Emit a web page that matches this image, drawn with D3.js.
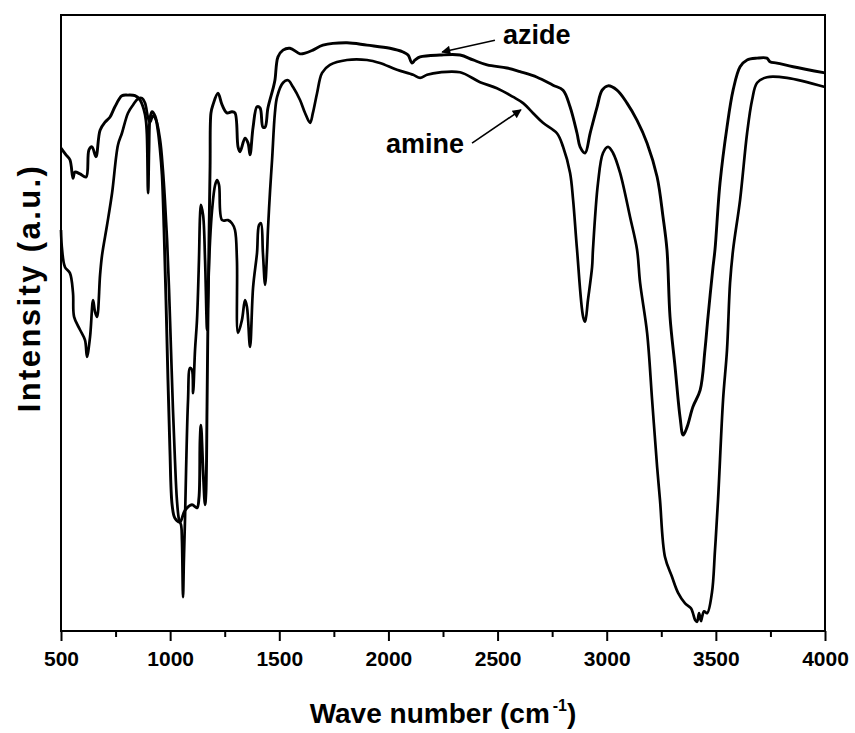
<!DOCTYPE html>
<html><head><meta charset="utf-8">
<script src="https://cdn.jsdelivr.net/npm/d3@7"></script>
<style>
html,body{margin:0;padding:0;background:#fff;}
text{font-family:"Liberation Sans",Arial,sans-serif;font-weight:bold;fill:#000;}
</style></head>
<body><svg id="c" width="855" height="733"></svg>
<script>
// ---- data ----
const xTicksMajor = [500,1000,1500,2000,2500,3000,3500,4000];
const xTicksMinor = [750,1250,1750,2250,2750,3250,3750];

const azideWavenumber = [500,523,541,555,564,587,615,628,642,660,679,702,724,747,779,807,839,862,880,889,894,899,903,908,917,931,944,954,963,972,981,990,999,1009,1022,1045,1068,1100,1123,1132,1137,1141,1151,1160,1164,1169,1173,1178,1183,1187,1196,1219,1238,1260,1283,1297,1311,1320,1343,1357,1366,1380,1398,1412,1425,1435,1448,1471,1480,1494,1517,1549,1595,1618,1654,1700,1810,1902,2007,2067,2090,2108,2122,2145,2236,2328,2388,2452,2543,2603,2681,2754,2800,2832,2864,2878,2901,2924,2956,2979,3006,3047,3093,3139,3185,3231,3258,3276,3290,3313,3336,3350,3368,3395,3428,3450,3464,3487,3496,3519,3551,3579,3611,3643,3689,3734,3748,3780,3854,4000];
const azideIntensity = [78.4,77.3,76.5,73.5,74.5,74.2,73.7,78.1,78.6,77.0,81.3,82.6,83.4,85.1,86.9,87.0,86.9,86.2,84.6,83.0,80.5,71.1,78.1,83.3,84.3,83.6,81.3,78.1,74.0,65.1,53.7,40.8,29.4,20.5,18.3,17.7,19.6,20.5,20.0,21.6,31.0,33.4,26.0,20.5,22.4,36.4,50.0,63.5,75.5,84.1,85.4,87.3,85.4,84.1,84.3,84.1,78.6,77.8,80.0,79.2,77.3,81.8,85.1,84.9,81.8,81.8,84.9,88.0,89.4,93.2,94.3,94.6,93.7,93.8,94.3,95.1,95.5,95.1,94.6,94.0,93.5,92.2,92.7,93.2,93.5,93.5,92.7,91.9,91.4,90.8,89.9,88.6,87.8,85.1,80.8,78.6,77.6,80.8,85.1,87.8,88.5,87.8,85.7,82.9,79.2,73.7,67.2,61.9,51.0,42.9,34.7,31.8,33.1,36.4,39.1,45.6,51.0,59.1,61.9,72.7,81.8,87.8,91.6,92.7,93.0,93.0,92.4,92.2,91.6,90.6];

const amineWavenumber = [500,505,518,541,555,560,587,610,619,633,647,656,665,679,688,711,734,761,779,807,830,853,871,885,899,908,921,935,954,967,976,986,995,1004,1013,1022,1031,1041,1050,1054,1059,1063,1068,1073,1082,1091,1100,1105,1114,1123,1132,1137,1141,1151,1160,1169,1173,1183,1192,1206,1215,1224,1238,1265,1283,1297,1306,1311,1329,1343,1352,1366,1380,1398,1407,1416,1425,1435,1444,1448,1458,1467,1480,1490,1517,1540,1563,1595,1618,1641,1654,1673,1696,1732,1810,1902,1961,2039,2113,2145,2177,2236,2328,2420,2497,2571,2617,2662,2708,2772,2800,2832,2846,2864,2892,2901,2914,2933,2937,2960,2983,3006,3029,3061,3107,3139,3153,3185,3208,3231,3244,3267,3299,3327,3359,3386,3395,3405,3414,3423,3432,3437,3446,3460,3482,3496,3510,3533,3551,3565,3579,3611,3643,3666,3689,3734,3826,4000];
const amineIntensity = [65.1,61.9,59.1,58.1,54.9,51.0,48.9,47.2,44.5,47.7,53.7,51.8,51.0,57.8,61.0,65.9,71.1,78.9,80.8,84.1,85.4,86.4,86.5,85.7,83.3,82.6,83.6,83.0,79.7,74.8,70.0,63.5,55.4,45.6,35.9,27.8,21.3,18.0,17.2,14.8,5.5,11.5,18.0,26.1,37.5,42.7,42.4,38.6,45.6,50.5,60.2,67.5,69.2,67.5,60.2,48.9,53.7,63.5,68.3,72.4,73.2,72.4,66.7,66.7,66.2,65.1,60.2,48.4,50.5,53.7,52.6,46.1,55.8,61.4,65.9,66.2,61.4,56.2,61.4,65.1,71.6,76.5,84.1,86.7,89.0,89.4,88.3,86.2,84.1,82.5,84.1,87.3,90.6,91.9,92.7,92.7,92.2,91.1,90.3,89.8,90.3,90.7,90.7,89.1,88.1,86.7,85.7,84.1,82.5,80.8,78.6,74.4,70.0,61.9,51.0,50.2,53.7,59.1,61.9,72.7,77.6,78.6,77.6,74.4,67.2,61.9,56.5,48.4,37.5,26.6,21.3,12.0,8.8,6.2,4.5,3.7,2.9,1.8,1.5,2.9,1.6,2.3,3.2,2.9,6.2,13.1,21.3,37.5,45.6,56.5,61.9,70.0,80.8,86.2,89.0,89.9,89.8,88.3];

const labels = ["azide","amine"];
const xTitle = "Wave number (cm";
const yTitle = "Intensity (a.u.)";

// ---- layout ----
const L = 61, R = 825, T = 15, B = 631;
const svg = d3.select("#c");
const x = d3.scaleLinear().domain([500,4000]).range([L,R]);
const y = d3.scaleLinear().domain([0,100]).range([B,T]);

// curves
const line = d3.line().x(d=>x(d[0])).y(d=>y(d[1])).curve(d3.curveCatmullRom.alpha(0.5));
const azide = d3.zip(azideWavenumber, azideIntensity);
const amine = d3.zip(amineWavenumber, amineIntensity);
const g = svg.append("g");
g.append("path").datum(amine).attr("d",line).attr("fill","none").attr("stroke","#000")
  .attr("stroke-width",2.7).attr("stroke-linejoin","round");
g.append("path").datum(azide).attr("d",line).attr("fill","none").attr("stroke","#000")
  .attr("stroke-width",2.9).attr("stroke-linejoin","round");

// frame
svg.append("rect").attr("x",L).attr("y",T).attr("width",R-L).attr("height",B-T)
  .attr("fill","none").attr("stroke","#000").attr("stroke-width",2);

// bottom axis
const ax = d3.axisBottom(x).tickValues(xTicksMajor).tickSize(10).tickPadding(10).tickFormat(d3.format("d"));
const axG = svg.append("g").attr("transform",`translate(0,${B})`).call(ax);
axG.select(".domain").remove();
axG.selectAll(".tick line").attr("stroke","#000").attr("stroke-width",2);
axG.selectAll(".tick text").attr("font-size",21).attr("font-family","Liberation Sans, Arial, sans-serif")
  .attr("font-weight","bold").attr("fill","#000");
const axm = d3.axisBottom(x).tickValues(xTicksMinor).tickSize(6).tickFormat("");
const axmG = svg.append("g").attr("transform",`translate(0,${B})`).call(axm);
axmG.select(".domain").remove();
axmG.selectAll(".tick line").attr("stroke","#000").attr("stroke-width",2);

// titles
const xt = svg.append("text").attr("x",(L+R)/2 + 0).attr("y",723).attr("text-anchor","middle").attr("font-size",28);
xt.append("tspan").text(xTitle);
xt.append("tspan").attr("dy",-12).attr("dx",3).attr("font-size",16).text("-1");
xt.append("tspan").attr("dy",12).text(")");

svg.append("text").attr("transform","translate(40,288) rotate(-90)").attr("text-anchor","middle")
  .attr("font-size",31).attr("letter-spacing",2.4).text(yTitle);

// annotations
svg.append("defs").append("marker").attr("id","ah").attr("viewBox","0 0 10 10").attr("refX",9).attr("refY",5)
  .attr("markerWidth",12).attr("markerHeight",9).attr("markerUnits","userSpaceOnUse").attr("orient","auto")
  .append("path").attr("d","M0,0 L10,5 L0,10 Z").attr("fill","#000");

svg.append("text").attr("x",x(2525)).attr("y",y(95.3)).attr("font-size",27).text(labels[0]);
svg.append("line").attr("x1",x(2488)).attr("y1",y(95.9)).attr("x2",x(2246)).attr("y2",y(94.0))
  .attr("stroke","#000").attr("stroke-width",1.6).attr("marker-end","url(#ah)");
svg.append("text").attr("x",x(1989)).attr("y",y(77.6)).attr("font-size",27).text(labels[1]);
svg.append("line").attr("x1",x(2383)).attr("y1",y(79.2)).attr("x2",x(2607)).attr("y2",y(84.6))
  .attr("stroke","#000").attr("stroke-width",1.6).attr("marker-end","url(#ah)");
</script></body></html>
